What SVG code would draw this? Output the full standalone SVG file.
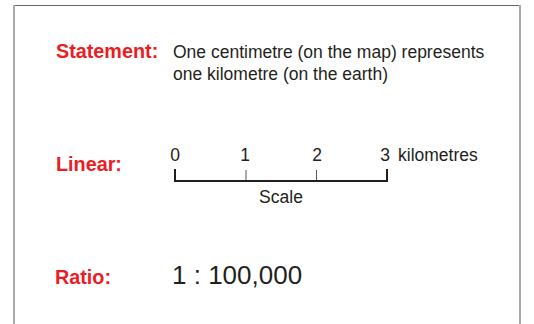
<svg xmlns="http://www.w3.org/2000/svg" width="534" height="324" viewBox="0 0 534 324">
<style>
.lab{font-family:"Liberation Sans",Arial,sans-serif;font-weight:bold;font-size:19.8px;fill:#ec1c24}
.txt{font-family:"Liberation Sans",Arial,sans-serif;font-size:17.5px;fill:#231f20}
.big{font-family:"Liberation Sans",Arial,sans-serif;font-size:26px;fill:#231f20}
.bar{stroke:#231f20;stroke-width:2;fill:none}
.tick{stroke:#555;stroke-width:1;fill:none}
</style>
<rect width="534" height="324" fill="#ffffff"/>
<g id="frame">
<line x1="14" y1="5.5" x2="520" y2="5.5" stroke="#666" stroke-width="1"/>
<line x1="14" y1="5" x2="14" y2="324" stroke="#aaa" stroke-width="2"/>
<line x1="520" y1="5" x2="520" y2="324" stroke="#aaa" stroke-width="2"/>
</g>
<g id="statement">
<text class="lab" x="56" y="58">Statement:</text>
<text class="txt" x="173" y="58">One centimetre (on the map) represents</text>
<text class="txt" x="173" y="80">one kilometre (on the earth)</text>
</g>
<g id="linear">
<text class="lab" x="56" y="171">Linear:</text>
<text class="txt" x="175" y="161" text-anchor="middle">0</text>
<text class="txt" x="245" y="161" text-anchor="middle">1</text>
<text class="txt" x="317" y="161" text-anchor="middle">2</text>
<text class="txt" x="385" y="161" text-anchor="middle">3</text>
<text class="txt" x="398" y="161" font-size="19">kilometres</text>
<text class="txt" x="281" y="203" text-anchor="middle">Scale</text>
</g>
<g id="scale-bar">
<path class="bar" d="M175,169 V181 H387 V169"/>
<line class="tick" x1="246" y1="170" x2="246" y2="180"/>
<line class="tick" x1="316.5" y1="170" x2="316.5" y2="180"/>
</g>
<g id="ratio">
<text class="lab" x="55" y="284">Ratio:</text>
<text class="big" x="172" y="284">1 : 100,000</text>
</g>
</svg>
